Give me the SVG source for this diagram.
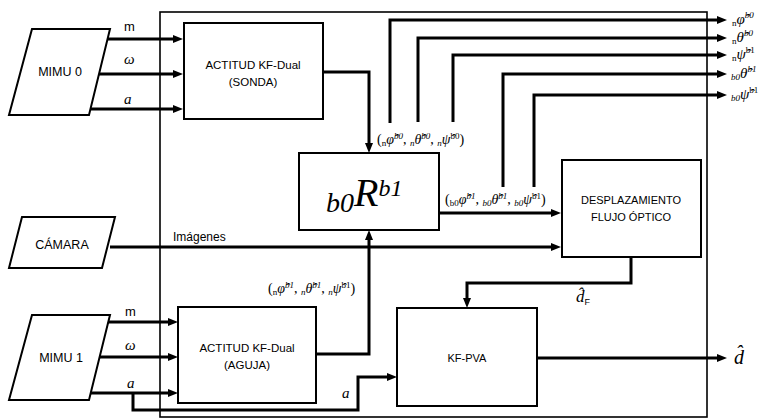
<svg xmlns="http://www.w3.org/2000/svg" width="761" height="420" viewBox="0 0 761 420">
<style>
.box{fill:#fff;stroke:#000;stroke-width:2}
.frame{fill:none;stroke:#000;stroke-width:1.6}
.c{fill:none;stroke:#000;stroke-width:3}
.t{font-family:"Liberation Sans","Noto Sans",sans-serif;font-size:11.5px;fill:#000;text-anchor:middle}
.ts{font-family:"Liberation Sans","Noto Sans",sans-serif;font-size:13px;fill:#000}
.m{font-family:"Liberation Serif","DejaVu Serif",serif;fill:#000}
.i{font-style:italic}
.sm{font-size:9px}
</style>
<defs>
<marker id="ah" markerUnits="userSpaceOnUse" markerWidth="10" markerHeight="8" refX="0" refY="4" orient="auto">
<path d="M0,0 L10,4 L0,8 z" fill="#000"/>
</marker>
</defs>
<rect class="frame" x="160" y="12" width="547" height="405"/>
<g id="connectors">
<path class="c" d="M107,39 H173" marker-end="url(#ah)"/>
<path class="c" d="M99,74 H173" marker-end="url(#ah)"/>
<path class="c" d="M90,109 H173" marker-end="url(#ah)"/>
<path class="c" d="M323,72 H369 V143" marker-end="url(#ah)"/>
<path class="c" d="M390,123 V20 H717" marker-end="url(#ah)"/>
<path class="c" d="M418,122 V38 H717" marker-end="url(#ah)"/>
<path class="c" d="M453,122 V55 H717" marker-end="url(#ah)"/>
<path class="c" d="M503,187 V74 H717" marker-end="url(#ah)"/>
<path class="c" d="M534,187 V95 H717" marker-end="url(#ah)"/>
<path class="c" d="M439,213 H551" marker-end="url(#ah)"/>
<path class="c" d="M110,247 H551" marker-end="url(#ah)"/>
<path class="c" d="M107,322 H168" marker-end="url(#ah)"/>
<path class="c" d="M98,357 H168" marker-end="url(#ah)"/>
<path class="c" d="M90,393 H168" marker-end="url(#ah)"/>
<path class="c" d="M133,393 V410 H358 V377 H387" marker-end="url(#ah)"/>
<path class="c" d="M316,354 H369 V240" marker-end="url(#ah)"/>
<path class="c" d="M631,257 V283 H467 V298" marker-end="url(#ah)"/>
<path class="c" d="M537,358 H717" marker-end="url(#ah)"/>
</g>
<g id="mimu0">
<polygon class="box" points="32,29 110,29 89,115 9,115"/>
<text class="t" x="60" y="76" style="font-size:12.5px">MIMU 0</text>
</g>
<g id="camara">
<polygon class="box" points="22,217 115,217 102,268 9,268"/>
<text class="t" x="62" y="249" style="font-size:12.5px">CÁMARA</text>
</g>
<g id="mimu1">
<polygon class="box" points="32,315 110,315 89,400 9,400"/>
<text class="t" x="61" y="362" style="font-size:12.5px">MIMU 1</text>
</g>
<g id="sonda">
<rect class="box" x="184" y="23" width="139" height="96"/>
<text class="t" x="253" y="69">ACTITUD KF-Dual</text>
<text class="t" x="253" y="86">(SONDA)</text>
</g>
<g id="aguja">
<rect class="box" x="178" y="307" width="138" height="96"/>
<text class="t" x="247" y="352">ACTITUD KF-Dual</text>
<text class="t" x="247" y="369">(AGUJA)</text>
</g>
<g id="rot">
<rect class="box" x="299" y="153" width="140" height="77"/>
<text class="m i" x="326" y="212" style="font-size:28px">b0<tspan dy="-6" style="font-size:40px">R</tspan><tspan dy="-10" style="font-size:24px">b1</tspan></text>
</g>
<g id="desp">
<rect class="box" x="562" y="160" width="139" height="97"/>
<text class="t" x="631" y="204" style="font-size:11px">DESPLAZAMIENTO</text>
<text class="t" x="631" y="221" style="font-size:11px">FLUJO ÓPTICO</text>
</g>
<g id="kfpva">
<rect class="box" x="397" y="308" width="140" height="98"/>
<text class="t" x="467" y="362" style="font-size:11px">KF-PVA</text>
</g>
<g id="labels">
<text class="ts" x="124" y="31">m</text>
<text class="m i" x="124" y="64" style="font-size:15px">ω</text>
<text class="m i" x="124" y="104" style="font-size:15px">a</text>
<text class="ts" x="125" y="316">m</text>
<text class="m i" x="125" y="350" style="font-size:15px">ω</text>
<text class="m i" x="127" y="388" style="font-size:15px">a</text>
<text class="m i" x="342" y="398" style="font-size:15px">a</text>
<text class="ts" x="173" y="241" style="font-size:12px">Imágenes</text>
<text class="m" x="377" y="144" style="font-size:14px">(<tspan class="sm" dy="2">n</tspan><tspan class="i" dy="-2">φ̂</tspan><tspan class="sm i" dy="-5">b0</tspan><tspan dy="5">, </tspan><tspan class="sm i" dy="2">n</tspan><tspan class="i" dy="-2">θ̂</tspan><tspan class="sm i" dy="-5">b0</tspan><tspan dy="5">, </tspan><tspan class="sm i" dy="2">n</tspan><tspan class="i" dy="-2">ψ̂</tspan><tspan class="sm" dy="-5">b0</tspan><tspan dy="5">)</tspan></text>
<text class="m" x="445" y="204" style="font-size:14px">(<tspan class="sm" dy="2">b0</tspan><tspan class="i" dy="-2">φ̂</tspan><tspan class="sm i" dy="-5">b1</tspan><tspan dy="5">, </tspan><tspan class="sm i" dy="2">b0</tspan><tspan class="i" dy="-2">θ̂</tspan><tspan class="sm i" dy="-5">b1</tspan><tspan dy="5">, </tspan><tspan class="sm i" dy="2">b0</tspan><tspan class="i" dy="-2">ψ̂</tspan><tspan class="sm" dy="-5">b1</tspan><tspan dy="5">)</tspan></text>
<text class="m" x="268" y="293" style="font-size:14px">(<tspan class="sm" dy="2">n</tspan><tspan class="i" dy="-2">φ̂</tspan><tspan class="sm i" dy="-5">b1</tspan><tspan dy="5">, </tspan><tspan class="sm i" dy="2">n</tspan><tspan class="i" dy="-2">θ̂</tspan><tspan class="sm i" dy="-5">b1</tspan><tspan dy="5">, </tspan><tspan class="sm i" dy="2">n</tspan><tspan class="i" dy="-2">ψ̂</tspan><tspan class="sm" dy="-5">b1</tspan><tspan dy="5">)</tspan></text>
<text class="m" x="732" y="26" style="font-size:15px"><tspan class="sm">n</tspan><tspan class="i" dy="-2">φ̂</tspan><tspan class="sm i" dy="-6">b0</tspan></text>
<text class="m" x="732" y="44" style="font-size:15px"><tspan class="sm">n</tspan><tspan class="i" dy="-2">θ̂</tspan><tspan class="sm i" dy="-6">b0</tspan></text>
<text class="m" x="732" y="61" style="font-size:15px"><tspan class="sm">n</tspan><tspan class="i" dy="-2">ψ̂</tspan><tspan class="sm" dy="-6">b1</tspan></text>
<text class="m" x="731" y="80" style="font-size:15px"><tspan class="sm i">b0</tspan><tspan class="i" dy="-2">θ̂</tspan><tspan class="sm i" dy="-6">b1</tspan></text>
<text class="m" x="731" y="101" style="font-size:15px"><tspan class="sm i">b0</tspan><tspan class="i" dy="-2">ψ̂</tspan><tspan class="sm" dy="-6">b1</tspan></text>
<text class="m i" x="576" y="302" style="font-size:17px">d̂<tspan style="font-family:'Liberation Sans',sans-serif;font-style:normal;font-size:9px" dy="3">F</tspan></text>
<text class="m i" x="734" y="364" style="font-size:20px">d̂</text>
</g>
</svg>
